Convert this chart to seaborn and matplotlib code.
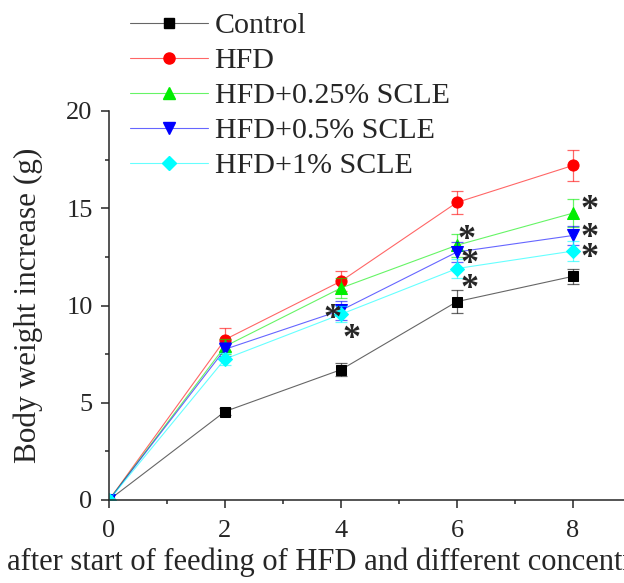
import numpy as np
import pandas as pd
import matplotlib
matplotlib.use("Agg")
import matplotlib.pyplot as plt
from matplotlib.ticker import MultipleLocator
import seaborn as sns

# Data
weeks = [0, 2, 4, 6, 8]
groups = ["Control", "HFD", "HFD+0.25% SCLE", "HFD+0.5% SCLE", "HFD+1% SCLE"]
control = [0, 4.55, 6.7, 10.2, 11.5]
hfd = [0, 8.25, 11.25, 15.3, 17.2]
scle_025 = [0, 7.9, 10.9, 13.1, 14.75]
scle_05 = [0, 7.75, 9.75, 12.75, 13.6]
scle_1 = [0, 7.25, 9.55, 11.9, 12.8]
control_err = [0, 0.2, 0.35, 0.6, 0.4]
hfd_err = [0, 0.6, 0.5, 0.6, 0.8]
scle_025_err = [0, 0.4, 0.5, 0.6, 0.7]
scle_05_err = [0, 0.35, 0.5, 0.5, 0.5]
scle_1_err = [0, 0.3, 0.4, 0.5, 0.5]

# significance marks (week, y position)
star_x = [3.86, 4.19, 6.17, 6.22, 6.22, 8.28, 8.28, 8.28]
star_y = [9.7, 8.7, 13.8, 12.55, 11.25, 15.3, 13.9, 12.85]

values = [control, hfd, scle_025, scle_05, scle_1]
errors = [control_err, hfd_err, scle_025_err, scle_05_err, scle_1_err]
colors = ["#000000", "#ff0000", "#00ee00", "#0000ff", "#00ffff"]
markers = ["s", "o", "^", "v", "D"]
msizes = [7, 8, 8.5, 8.5, 7]

df = pd.DataFrame({
    "week": weeks * len(groups),
    "value": sum(values, []),
    "err": sum(errors, []),
    "group": [g for g in groups for _ in weeks],
})

sns.set_style("ticks")
plt.rcParams['font.family'] = ['Liberation Serif', 'DejaVu Serif']

fig = plt.figure(figsize=(6.24, 5.83), dpi=100)
ax = fig.add_axes([109 / 624, 83 / 583, 515 / 624, 389 / 583])

for g, c, m, ms in zip(groups, colors, markers, msizes):
    sub = df[df.group == g]
    ax.errorbar(sub.week, sub.value, yerr=sub.err, fmt="none", ecolor=c,
                elinewidth=0.9, capsize=4, capthick=0.9, alpha=0.6)
    sns.lineplot(x="week", y="value", data=sub, ax=ax, color=c, lw=0.8,
                 alpha=0.6, legend=False)
    sns.lineplot(x="week", y="value", data=sub, ax=ax, color=c, lw=0,
                 marker=m, markersize=ms, markeredgecolor=c, legend=False)

# legend handles: light line + solid marker
handles = []
for g, c, m, ms in zip(groups, colors, markers, msizes):
    h_line, = ax.plot([], [], color=c, lw=0.8, alpha=0.6)
    h_mark, = ax.plot([], [], lw=0, marker=m, markersize=ms, color=c)
    handles.append((h_line, h_mark))

fs_star = 26
for sx, sy in zip(star_x, star_y):
    ax.annotate("*", (sx, sy), xytext=(0, -0.47 * fs_star),
                textcoords="offset points", ha="center", va="baseline",
                fontsize=fs_star, fontweight="bold")

ax.set_xlim(0, 8.88)
ax.set_ylim(0, 20)
ax.xaxis.set_major_locator(MultipleLocator(2))
ax.xaxis.set_minor_locator(MultipleLocator(1))
ax.yaxis.set_major_locator(MultipleLocator(5))
ax.yaxis.set_minor_locator(MultipleLocator(2.5))
ax.tick_params(which="major", length=5.8, width=1.1, labelsize=19)
ax.tick_params(which="minor", length=2.9, width=1.1)
ax.tick_params(axis="x", which="major", pad=8.5)
ax.tick_params(axis="y", which="major", pad=6)
for s in ["left", "bottom"]:
    ax.spines[s].set_linewidth(1.1)
ax.spines["top"].set_visible(False)
ax.spines["right"].set_visible(False)
ax.set_xlabel("")
ax.set_ylabel("")

fig.text(28 / 624, 1 - 305 / 583, "Body weight increase (g)", rotation=90,
         ha="center", va="center", fontsize=22.5)
fig.text(7 / 624, 1 - 562 / 583,
         "after start of feeding of HFD and different concentrations of SCLE",
         ha="left", va="center", fontsize=22)

ax.legend(handles, groups, loc="upper left",
          bbox_to_anchor=(130 / 624, 1 - 12 / 583),
          bbox_transform=fig.transFigure, frameon=False, fontsize=21.6,
          handlelength=2.6, handletextpad=0.22, labelspacing=0.27,
          borderpad=0, borderaxespad=0)

fig.savefig("out.png", dpi=100)
